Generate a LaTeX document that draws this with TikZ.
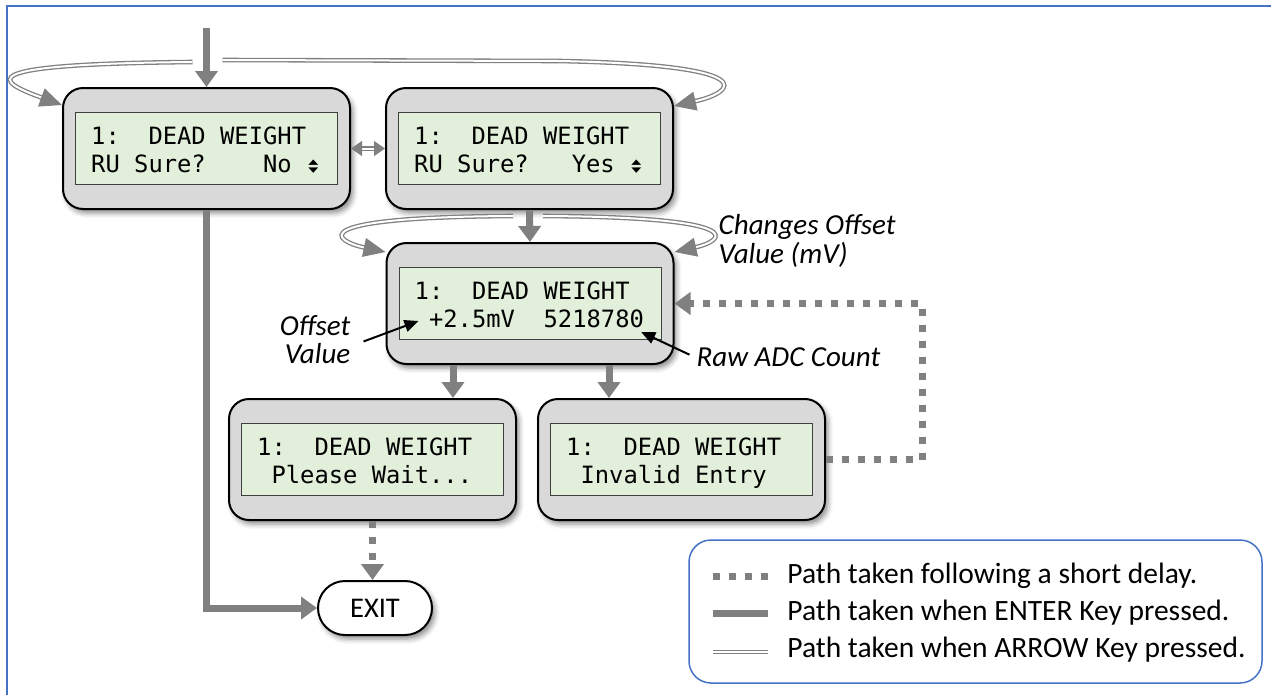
\documentclass[tikz,border=0pt]{standalone}
\usepackage{fontspec}
\setmainfont{Carlito}
\newfontfamily\lcdfont{DejaVu Sans Mono}
\newfontfamily\symfont{DejaVu Sans}
\usepackage{graphicx}
\usepackage{tikz}
\usetikzlibrary{calc, arrows.meta, shapes.misc, shadows.blur}

\definecolor{framecol}{HTML}{4472C4}
\definecolor{panelgray}{HTML}{D9D9D9}
\definecolor{lcdgreen}{HTML}{E2EFDA}
\definecolor{arrowgray}{HTML}{808080}

\newcommand{\updown}{\makebox[0.602em]{\vbox{\offinterlineskip
  \hbox{\symfont\fontsize{13pt}{13pt}\selectfont\scalebox{1}[0.55]{▲}}\kern2pt
  \hbox{\symfont\fontsize{13pt}{13pt}\selectfont\scalebox{1}[0.55]{▼}}}}}

\newcommand{\lcdpanel}[4]{%
  \node[panel] (#1) at (#2) {};
  \node[screen] (#1s) at (#1) {};
  \node[lcdline] (#1a) at ($(#1.west)+(29,-4.5)$) {#3};
  \node[lcdline] (#1b) at ($(#1.west)+(29,23.5)$) {#4};
}

\tikzset{
  panel/.style={draw=black, line width=2pt, fill=panelgray, rounded corners=20pt,
    minimum width=287pt, minimum height=121pt, inner sep=0pt,
    blur shadow={shadow xshift=3pt, shadow yshift=-4pt, shadow blur radius=5pt, shadow opacity=45}},
  screen/.style={draw=black!75, line width=1pt, fill=lcdgreen,
    minimum width=262pt, minimum height=72pt, inner sep=0pt},
  lcdline/.style={anchor=base west, inner sep=0pt, font=\lcdfont\fontsize{23.8pt}{28pt}\selectfont},
  exitbox/.style={rounded rectangle, draw=black, line width=2pt, fill=white,
    minimum width=114pt, minimum height=54pt, inner sep=0pt,
    font=\fontsize{28.5pt}{32pt}\selectfont,
    blur shadow={shadow xshift=3pt, shadow yshift=-4pt, shadow blur radius=5pt, shadow opacity=45}},
  note/.style={inner sep=0pt, font=\itshape\fontsize{29pt}{28.5pt}\selectfont},
  keytext/.style={anchor=base west, inner sep=0pt, font=\fontsize{29.5pt}{32pt}\selectfont},
  legendbox/.style={draw=framecol, line width=1.5pt, rounded corners=22pt,
    minimum width=573pt, minimum height=143pt, inner sep=0pt},
  enterline/.style={draw=arrowgray, line width=7pt},
  delayline/.style={draw=arrowgray, line width=7pt, dash pattern=on 7pt off 9pt},
  arrowline/.style={draw=arrowgray, line width=1.3pt, double=white, double distance=2pt},
  enter/.style={enterline, -{Triangle[length=16pt, width=22pt]}},
  delay/.style={delayline, -{Triangle[length=16pt, width=22pt]}},
  arrowkey/.style={arrowline, -{Triangle[length=22pt, width=19pt]}},
  arrowkeyboth/.style={arrowline, {Triangle[length=11pt, width=15pt]}-{Triangle[length=11pt, width=15pt]}},
  callout/.style={draw=black, line width=2pt, -{Triangle[length=14pt, width=12pt]}}
}

\begin{document}
\begin{tikzpicture}[x=1pt, y=-1pt]
\useasboundingbox (0,0) rectangle (1271,694);
\draw[framecol, line width=2pt] (7,700) |- (1280,6);

\lcdpanel{no}{206.5,148.5}{1:~~DEAD~WEIGHT}{RU~Sure?~~~~No~\updown}
\lcdpanel{yes}{529.5,148.5}{1:~~DEAD~WEIGHT}{RU~Sure?~~~Yes~\updown}
\lcdpanel{off}{530,303.5}{1:~~DEAD~WEIGHT}{~+2.5mV~~5218780}
\lcdpanel{wait}{372.5,459.5}{1:~~DEAD~WEIGHT}{~Please~Wait...}
\lcdpanel{inv}{681.5,459.5}{1:~~DEAD~WEIGHT}{~Invalid~Entry}
\node[exitbox] (exit) at (375,608) {EXIT};

\coordinate (start) at ($(no.north)+(0,-59)$);
\draw[enter] (start) -- (no.north);
\draw[enter] (no.south) |- (exit.west);
\draw[enter] (yes.south) -- (off.north);
\coordinate (d1) at ($(off.south)+(-77,0)$);
\coordinate (d2) at ($(off.south)+(79,0)$);
\draw[enter] (d1) -- (d1 |- wait.north);
\draw[enter] (d2) -- (d2 |- inv.north);
\draw[delay] (wait.south) -- (wait.south |- exit.north);
\draw[delay] (inv.east) -- ++(96,0) |- (off.east);

\draw[arrowkeyboth] (no.east) -- (yes.west);
\coordinate (tl) at ($(no.north)+(-14,-25)$);
\coordinate (tr) at ($(no.north)+(16,-27)$);
\draw[arrowkey] (tl) .. controls +(-225,2) and +(-66,-24) .. ($(no.north west)+(0,18)$);
\draw[arrowkey] (tr) -- ++(337,1) .. controls +(205,4) and +(62,-14) .. ($(yes.north east)+(0,19)$);
\coordinate (ol) at ($(off.north)+(-17,-26)$);
\coordinate (or) at ($(off.north)+(13,-26)$);
\draw[arrowkey] (ol) .. controls +(-213,1) and +(-52,-11) .. ($(off.north west)+(0,10)$);
\draw[arrowkey] (or) .. controls +(212,1) and +(49,-11) .. ($(off.north east)+(0,10)$);

\node[note, align=left, anchor=west] (chg) at ($(off.north east)+(44,-1)$) {Changes Offset\\Value (mV)};
\node[note, align=right, anchor=east] (offlbl) at ($(off.west)+(-35,36)$) {Offset\\Value};
\node[note, anchor=base west] (raw) at ($(off.east)+(22,62.5)$) {Raw ADC Count};
\draw[callout] ($(offlbl.east)+(13,2)$) -- ($(offb.base west)+(4,-6)$);
\draw[callout] ($(raw.west)+(-7,-2)$) -- ($(offb.base east)+(-3,5)$);

\node[legendbox] (legend) at (975.5,611.5) {};
\node[keytext] (k1) at ($(legend.west)+(99,-28.5)$) {Path taken following a short delay.};
\node[keytext] (k2) at ($(legend.west)+(99,8.5)$) {Path taken when ENTER Key pressed.};
\node[keytext] (k3) at ($(legend.west)+(99,45.5)$) {Path taken when ARROW Key pressed.};
\draw[delayline] ($(k1.base west)+(-74,-7)$) -- ++(55,0);
\draw[enterline] ($(k2.base west)+(-74,-7)$) -- ++(55,0);
\draw[arrowline] ($(k3.base west)+(-74,-5)$) -- ++(55,0);
\end{tikzpicture}
\end{document}
